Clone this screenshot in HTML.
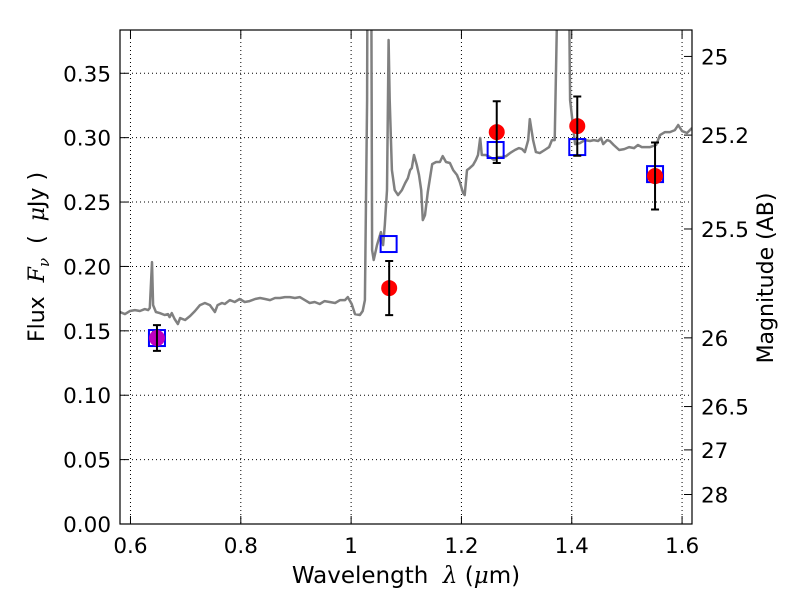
<!DOCTYPE html>
<html><head><meta charset="utf-8"><style>
body{margin:0;background:#fff;}
svg text{font-family:"DejaVu Sans","Liberation Sans",sans-serif;}
</style></head><body>
<svg id="chart" width="800" height="600" xmlns="http://www.w3.org/2000/svg">
<rect width="800" height="600" fill="#fff"/>
<g id="grid"></g>
<g id="plot"></g>
<g id="axes"></g>
<text x="406" y="583" font-size="23" text-anchor="middle" xml:space="preserve">Wavelength  <tspan font-style="italic" font-family="DejaVu Serif, serif">λ</tspan> (<tspan font-style="italic" font-family="DejaVu Serif, serif">μ</tspan>m)</text>
<text transform="translate(44,257) rotate(-90)" font-size="22" text-anchor="middle" xml:space="preserve">Flux  <tspan font-style="italic" font-family="DejaVu Serif, serif">F</tspan><tspan font-size="15" dy="5" font-style="italic" font-family="DejaVu Serif, serif">ν</tspan><tspan dy="-5">  (  </tspan><tspan font-style="italic" font-family="DejaVu Serif, serif">μ</tspan>Jy )</text>
<text transform="translate(773,278) rotate(-90)" font-size="22" text-anchor="middle">Magnitude (AB)</text>
</svg>
<script>
const specWave=[0.581,0.590,0.599,0.608,0.617,0.626,0.632,0.635,0.639,0.641,0.646,0.653,0.662,0.668,0.671,0.675,0.680,0.686,0.690,0.699,0.708,0.717,0.726,0.735,0.744,0.753,0.758,0.766,0.771,0.780,0.789,0.798,0.807,0.816,0.826,0.835,0.844,0.853,0.862,0.871,0.880,0.889,0.898,0.907,0.916,0.925,0.934,0.943,0.952,0.961,0.971,0.980,0.989,0.994,1.001,1.007,1.016,1.021,1.025,1.029,1.030,1.036,1.038,1.041,1.047,1.054,1.058,1.061,1.065,1.068,1.070,1.074,1.079,1.085,1.092,1.098,1.103,1.107,1.110,1.114,1.119,1.123,1.127,1.130,1.134,1.139,1.147,1.154,1.161,1.166,1.172,1.179,1.185,1.192,1.197,1.203,1.206,1.210,1.215,1.221,1.226,1.230,1.234,1.237,1.244,1.252,1.259,1.266,1.273,1.281,1.288,1.297,1.304,1.310,1.315,1.321,1.324,1.330,1.335,1.342,1.351,1.359,1.364,1.369,1.378,1.393,1.397,1.406,1.415,1.424,1.433,1.440,1.448,1.453,1.457,1.464,1.469,1.476,1.486,1.495,1.504,1.513,1.520,1.527,1.542,1.553,1.560,1.569,1.578,1.587,1.593,1.600,1.609,1.618];
const specFlux=[0.1646,0.1630,0.1654,0.1661,0.1654,0.1669,0.1661,0.1677,0.2034,0.1700,0.1646,0.1638,0.1623,0.1630,0.1607,0.1638,0.1592,0.1553,0.1599,0.1584,0.1615,0.1654,0.1700,0.1716,0.1700,0.1646,0.1700,0.1716,0.1708,0.1739,0.1724,0.1747,0.1724,0.1731,0.1747,0.1755,0.1747,0.1739,0.1755,0.1755,0.1762,0.1762,0.1755,0.1762,0.1739,0.1716,0.1724,0.1708,0.1731,0.1724,0.1716,0.1739,0.1739,0.1762,0.1708,0.1630,0.1623,0.1654,0.1739,0.3292,0.5,0.5,0.2127,0.2050,0.2166,0.2267,0.2166,0.2321,0.2593,0.3758,0.3292,0.2748,0.2593,0.2554,0.2593,0.2648,0.2686,0.2748,0.2764,0.2865,0.2787,0.2710,0.2593,0.2360,0.2399,0.2578,0.2795,0.2811,0.2811,0.2857,0.2811,0.2803,0.2748,0.2710,0.2655,0.2570,0.2554,0.2748,0.2764,0.2787,0.2826,0.2865,0.2997,0.2865,0.2865,0.2849,0.2826,0.2849,0.2849,0.2857,0.2880,0.2904,0.2919,0.2911,0.2888,0.2981,0.3144,0.2981,0.2888,0.2880,0.2904,0.2927,0.2981,0.2981,0.5,0.5,0.3292,0.2950,0.2958,0.2981,0.2974,0.2981,0.2974,0.2997,0.2950,0.2981,0.2974,0.2943,0.2904,0.2911,0.2927,0.2919,0.2943,0.2927,0.2927,0.2943,0.3020,0.3043,0.3043,0.3059,0.3098,0.3051,0.3036,0.3075];
const photWave=[0.648,1.069,1.264,1.410,1.551];
const photFlux=[0.1444,0.1832,0.3043,0.3090,0.2702];
const photErr=[0.010,0.021,0.024,0.023,0.026];
const photColor=['#bf00bf','#ff0000','#ff0000','#ff0000','#ff0000'];
const modelWave=[0.648,1.068,1.262,1.410,1.551];
const modelFlux=[0.1444,0.2174,0.2904,0.2927,0.2717];
const xTicks=[0.6,0.8,1.0,1.2,1.4,1.6];
const xTickLabels=['0.6','0.8','1','1.2','1.4','1.6'];
const yTicks=[0,0.05,0.10,0.15,0.20,0.25,0.30,0.35];
const yTickLabels=['0.00','0.05','0.10','0.15','0.20','0.25','0.30','0.35'];
const magTicks=[25,25.2,25.5,26,26.5,27,28];
const magTickLabels=['25','25.2','25.5','26','26.5','27','28'];

const L=120,R=692,T=30,B=524;
const X0=0.581,X1=1.618,Y0=0,Y1=0.3836;
const sx=v=>L+(v-X0)/(X1-X0)*(R-L);
const sy=v=>B-(v-Y0)/(Y1-Y0)*(B-T);
const magToFlux=m=>Math.pow(10,(23.9-m)/2.5);
const NS='http://www.w3.org/2000/svg';
function mk(tag,attrs,parent){const e=document.createElementNS(NS,tag);for(const k in attrs)e.setAttribute(k,attrs[k]);parent.appendChild(e);return e;}
const grid=document.getElementById('grid'),plot=document.getElementById('plot'),axes=document.getElementById('axes'),svg=document.getElementById('chart');

const defs=mk('defs',{},svg);
const cp=mk('clipPath',{id:'clip'},defs);
mk('rect',{x:L,y:T,width:R-L,height:B-T},cp);
plot.setAttribute('clip-path','url(#clip)');

xTicks.forEach((t,i)=>{
  const x=sx(t);
  const g=mk('line',{x1:x,x2:x,y1:T,y2:B,stroke:'#000','stroke-width':1,'stroke-dasharray':'1,3'},grid);
  
  
  mk('line',{x1:x,x2:x,y1:B,y2:B-8,stroke:'#000','stroke-width':1},axes);
  mk('line',{x1:x,x2:x,y1:T,y2:T+8,stroke:'#000','stroke-width':1},axes);
  const tx=mk('text',{x:x,y:B+29,'font-size':21.5,'text-anchor':'middle'},axes);
  tx.textContent=xTickLabels[i];
  
  
});
yTicks.forEach((t,i)=>{
  const y=sy(t);
  const g=mk('line',{x1:L,x2:R,y1:y,y2:y,stroke:'#000','stroke-width':1,'stroke-dasharray':'1,3'},grid);
  
  
  mk('line',{x1:L,x2:L+8,y1:y,y2:y,stroke:'#000','stroke-width':1},axes);
  const tx=mk('text',{x:L-9,y:y+8,'font-size':21.5,'text-anchor':'end'},axes);
  tx.textContent=yTickLabels[i];
  
  
});
magTicks.forEach((m,i)=>{
  const y=sy(magToFlux(m));
  mk('line',{x1:R,x2:R-8,y1:y,y2:y,stroke:'#000','stroke-width':1},axes);
  const tx=mk('text',{x:R+9,y:y+8,'font-size':21.5,'text-anchor':'start'},axes);
  tx.textContent=magTickLabels[i];
  
  
});
const frame=mk('rect',{x:L,y:T,width:R-L,height:B-T,fill:'none',stroke:'#000','stroke-width':1.2},axes);



const pts=specWave.map((w,i)=>sx(w).toFixed(1)+','+sy(specFlux[i]).toFixed(1)).join(' ');
const spec=mk('polyline',{points:pts,fill:'none',stroke:'#808080','stroke-width':2.5,'stroke-linejoin':'round'},plot);



photWave.forEach((w,i)=>{
  const x=sx(w), xm=sx(modelWave[i]);
  const sq=mk('rect',{x:xm-8,y:sy(modelFlux[i])-8,width:16,height:16,fill:'none',stroke:'#0000ff','stroke-width':2},plot);
  
  
  const c=mk('circle',{cx:x,cy:sy(photFlux[i]),r:8,fill:photColor[i]},plot);
  
  
  const y1=sy(photFlux[i]-photErr[i]),y2=sy(photFlux[i]+photErr[i]);
  const eb=mk('path',{d:`M${x},${y1}V${y2}M${x-4},${y1}H${x+4}M${x-4},${y2}H${x+4}`,stroke:'#000','stroke-width':2,fill:'none'},plot);
  
  
});
</script>
</body></html>
